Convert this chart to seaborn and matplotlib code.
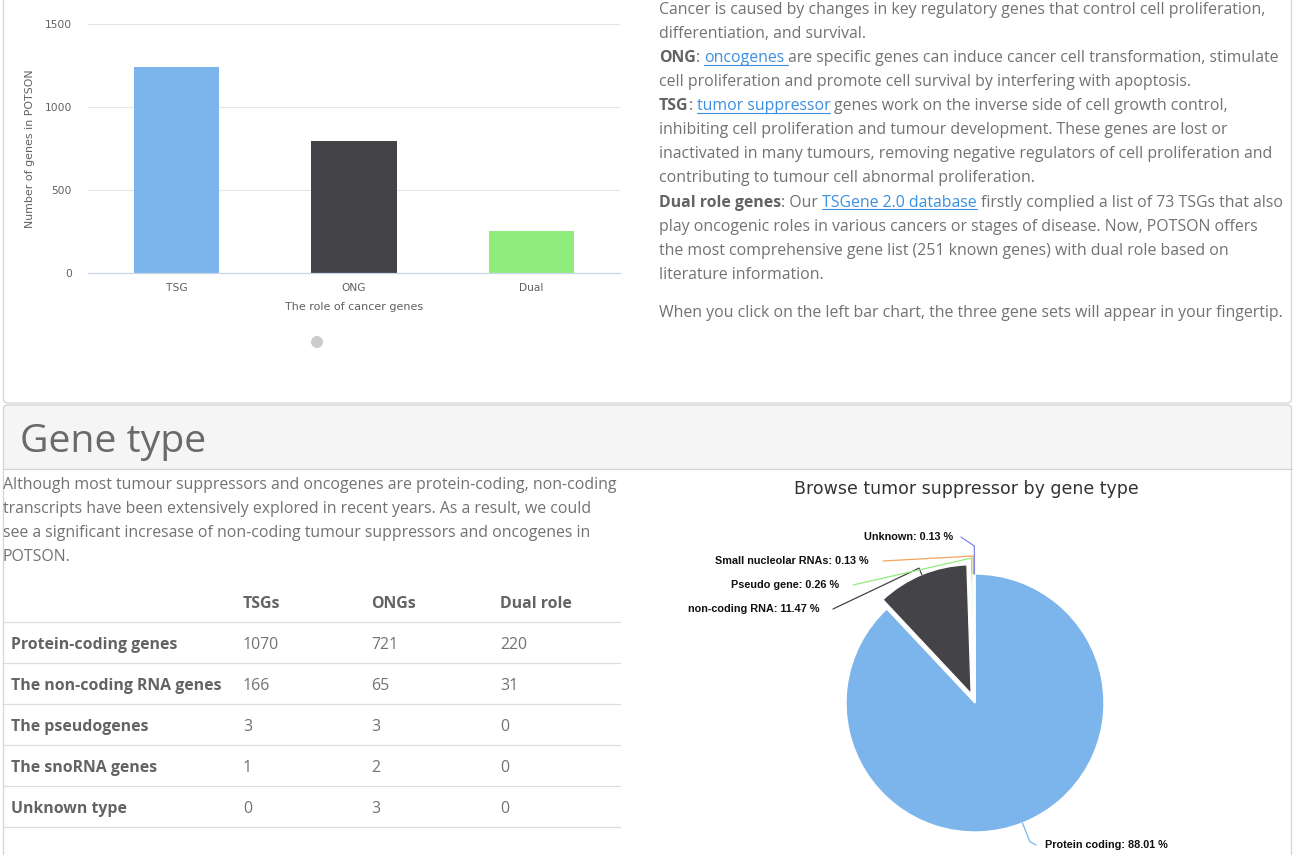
import numpy as np
import pandas as pd
import matplotlib
matplotlib.use("Agg")
import matplotlib.pyplot as plt
import seaborn as sns
from matplotlib.patches import FancyBboxPatch, Rectangle, Circle

# ---------------- data ----------------
roles = ["TSG", "ONG", "Dual"]
role_counts = [1240, 794, 251]
role_colors = ["#7cb5ec", "#434348", "#90ed7d"]
bar_yticks = [0, 500, 1000, 1500]

pie_labels = ["Protein coding", "non-coding RNA", "Pseudo gene",
              "Small nucleolar RNAs", "Unknown"]
pie_pct = [88.01, 11.47, 0.26, 0.13, 0.13]
pie_colors = ["#7cb5ec", "#434348", "#90ed7d", "#f7a35c", "#8085e9"]
pie_sliced = [0, 1, 0, 0, 0]

table_cols = ["TSGs", "ONGs", "Dual role"]
table_rows = ["Protein-coding genes", "The non-coding RNA genes",
              "The pseudogenes", "The snoRNA genes", "Unknown type"]
tsg_vals = [1070, 166, 3, 1, 0]
ong_vals = [721, 65, 3, 2, 3]
dual_vals = [220, 31, 0, 0, 0]

right_text = [
    [("Cancer is caused by changes in key regulatory genes that control cell proliferation,", "n")],
    [("differentiation, and survival.", "n")],
    [("ONG", "b"), (": ", "n"), ("oncogenes ", "l"),
     ("are specific genes can induce cancer cell transformation, stimulate", "n")],
    [("cell proliferation and promote cell survival by interfering with apoptosis.", "n")],
    [("TSG", "b"), (": ", "n"), ("tumor suppressor", "l"),
     (" genes work on the inverse side of cell growth control,", "n")],
    [("inhibiting cell proliferation and tumour development. These genes are lost or", "n")],
    [("inactivated in many tumours, removing negative regulators of cell proliferation and", "n")],
    [("contributing to tumour cell abnormal proliferation.", "n")],
    [("Dual role genes", "b"), (": Our ", "n"), ("TSGene 2.0 database", "l"),
     (" firstly complied a list of 73 TSGs that also", "n")],
    [("play oncogenic roles in various cancers or stages of disease. Now, POTSON offers", "n")],
    [("the most comprehensive gene list (251 known genes) with dual role based on", "n")],
    [("literature information.", "n")],
]
click_text = "When you click on the left bar chart, the three gene sets will appear in your fingertip."
left_text = [
    "Although most tumour suppressors and oncogenes are protein-coding, non-coding",
    "transcripts have been extensively explored in recent years. As a result, we could",
    "see a significant incresase of non-coding tumour suppressors and oncogenes in",
    "POTSON.",
]

# ---------------- setup ----------------
sns.set_theme(style="white")
plt.rcParams["font.family"] = ["DejaVu Sans"]
W, H = 1300, 855
fig = plt.figure(figsize=(W / 100, H / 100), dpi=100, facecolor="white")
bg = fig.add_axes([0, 0, 1, 1], zorder=0)
bg.set_xlim(0, W)
bg.set_ylim(H, 0)
bg.axis("off")
renderer = fig.canvas.get_renderer()

BODY = "Open Sans"
TXT = "#727272"
BOLD = "#636363"
LINK = "#3b8fe0"
BORDER = "#d4d4d4"


def text_w(s, **kw):
    t = bg.text(0, 0, s, **kw)
    w = t.get_window_extent(renderer).width
    t.remove()
    return w


# fit body font size to the reference line width
body_pt = 12 * 604 / text_w(right_text[0][0][0], fontsize=12, family=BODY)


def space_w(size, weight):
    return (text_w("a a", fontsize=size, family=BODY, fontweight=weight)
            - text_w("aa", fontsize=size, family=BODY, fontweight=weight))


def draw_runs(x, y, runs, size):
    for txt, kind in runs:
        weight = "bold" if kind == "b" else "normal"
        color = {"n": TXT, "b": BOLD, "l": LINK}[kind]
        core = txt.strip(" ")
        lead = len(txt) - len(txt.lstrip(" "))
        trail = len(txt) - len(txt.rstrip(" "))
        sp = space_w(size, weight)
        x0 = x
        x += lead * sp
        t = bg.text(x, y, core, fontsize=size, family=BODY, fontweight=weight,
                    color=color, ha="left", va="baseline")
        x += t.get_window_extent(renderer).width
        x += trail * sp
        if kind == "l":
            bg.plot([x0 + lead * sp, x], [y + 2.2, y + 2.2], color=LINK, lw=0.8)


# ---------------- panels ----------------
bg.add_patch(FancyBboxPatch((3.5, -30), 1288, 433, boxstyle="round,pad=0,rounding_size=4",
                            fc="white", ec=BORDER, lw=0.9))
bg.add_patch(FancyBboxPatch((3.5, 405), 1288, 500, boxstyle="round,pad=0,rounding_size=4",
                            fc="#f5f5f5", ec="none", lw=0))
bg.add_patch(Rectangle((3.5, 469), 1288, 400, fc="white", ec="none"))
bg.add_patch(FancyBboxPatch((3.5, 405), 1288, 500, boxstyle="round,pad=0,rounding_size=4",
                            fc="none", ec=BORDER, lw=0.9))
bg.plot([3.5, 1291.5], [469, 469], color=BORDER, lw=0.9)

# carousel dot
bg.add_patch(Circle((317, 342), 6, fc="#cccccc", ec="none"))

# ---------------- right paragraph ----------------
for i, runs in enumerate(right_text):
    draw_runs(659, 14.5 + 24 * i, runs, body_pt)
draw_runs(659, 316.5, [(click_text, "n")], body_pt)

# ---------------- Gene type heading & paragraph ----------------
head_pt = 26 * 187 / text_w("Gene type", fontsize=26, family=BODY)
bg.text(20, 452, "Gene type", fontsize=head_pt, family=BODY, color="#6a6a6a",
        ha="left", va="baseline")
for i, line in enumerate(left_text):
    draw_runs(3, 488.5 + 24 * i, [(line, "n")], body_pt)

# ---------------- table ----------------
col_x = [243, 371, 500]
for cx, c in zip(col_x, table_cols):
    bg.text(cx, 608, c, fontsize=body_pt, family=BODY, fontweight="bold",
            color=BOLD, ha="left", va="baseline")
line_y = [622, 663, 704, 745, 786, 827]
for ly in line_y:
    bg.plot([3.5, 620], [ly, ly], color="#dddddd", lw=0.9)
for r, (name, a, b, c) in enumerate(zip(table_rows, tsg_vals, ong_vals, dual_vals)):
    yb = 649 + 41 * r
    bg.text(11, yb, name, fontsize=body_pt, family=BODY, fontweight="bold",
            color=BOLD, ha="left", va="baseline")
    for cx, v in zip(col_x, (a, b, c)):
        bg.text(cx, yb, str(v), fontsize=body_pt, family=BODY,
                color=TXT, ha="left", va="baseline")

# ---------------- bar chart ----------------
ax = fig.add_axes([88 / W, 1 - 273 / H, 532 / W, 249 / H], zorder=2)
ax.patch.set_alpha(0)
df = pd.DataFrame({"role": roles, "count": role_counts})
sns.barplot(data=df, x="role", y="count", hue="role", palette=role_colors,
            width=0.48, saturation=1, legend=False, ax=ax, edgecolor="none")
ax.set_xlim(-0.5, 2.5)
ax.set_ylim(0, 1500)
ax.set_yticks(bar_yticks)
ax.set_axisbelow(True)
ax.yaxis.grid(True, color="#e6e6e6", lw=0.8)
ax.xaxis.grid(False)
for s in ["top", "left", "right"]:
    ax.spines[s].set_visible(False)
ax.spines["bottom"].set_color("#ccd6eb")
ax.spines["bottom"].set_linewidth(0.9)
ax.tick_params(axis="both", length=0, labelsize=7.7, labelcolor="#606060")
ax.tick_params(axis="y", pad=11.5)
ax.tick_params(axis="x", pad=7.5)
ax.set_ylabel("Number of genes in POTSON", fontsize=7.9, color="#606060")
ax.yaxis.set_label_coords((35.5 - 88) / 532, 0.5)
ax.set_xlabel("The role of cancer genes", fontsize=8.0, color="#606060")
ax.xaxis.set_label_coords(0.5, -(302.5 - 273) / 249)
ax.xaxis.label.set_va("top")

# ---------------- pie chart ----------------
CX, CY, R = 975, 703, 129
pax = fig.add_axes([640 / W, 0, 660 / W, (H - 470) / H], zorder=2)
expl = [10 / R * s for s in pie_sliced]
pax.pie(pie_pct, colors=pie_colors, startangle=90, counterclock=False,
        explode=expl, radius=1, wedgeprops=dict(edgecolor="white", linewidth=1.0))
pax.set_xlim((640 - CX) / R, (1300 - CX) / R)
pax.set_ylim((CY - H) / R, (CY - 470) / R)
pax.set_aspect("auto")
pax.axis("off")


def pd_(x, y):
    return (x - CX) / R, (CY - y) / R


# label layout (pixels): x, y-center, ha, connector start x, radial elbow px
lab_layout = [
    (1045, 845, "left", 1036, 20),
    (820, 609, "right", 833, 7),
    (839, 585, "right", 853, 16),
    (869, 561, "right", 883, 18),
    (953, 537, "right", 961, 28),
]
cum = np.cumsum([0] + pie_pct)
tot = cum[-1]
for i, (lbl, pct, col) in enumerate(zip(pie_labels, pie_pct, pie_colors)):
    lx, ly, ha, cx0, elb = lab_layout[i]
    mid = np.deg2rad((cum[i] + pct / 2) / tot * 360)  # clockwise from top
    ux, uy = np.sin(mid), np.cos(mid)
    off = expl[i]
    ex, ey = ux * (1 + off), uy * (1 + off)
    bx, by = ux * (1 + off + elb / R), uy * (1 + off + elb / R)
    sx, sy = pd_(cx0, ly)
    pax.plot([sx, bx, ex], [sy, by, ey], color=col, lw=0.9, clip_on=False)
    tx, ty = pd_(lx, ly)
    pax.text(tx, ty, f"{lbl}: {pct:.2f} %", fontsize=7.85, family="Liberation Sans",
             fontweight="bold", color="#111111", ha=ha, va="center", clip_on=False)

bg.text(966, 489, "Browse tumor suppressor by gene type", fontsize=12.5,
        family="DejaVu Sans", color="#333333", ha="center", va="center")

fig.savefig("out.png", dpi=100, facecolor="white")
